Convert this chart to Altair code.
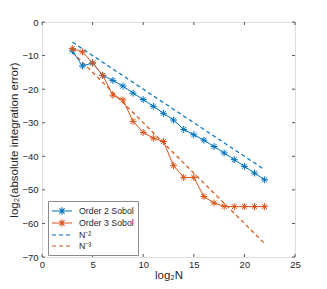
import altair as alt
import pandas as pd

# ---- data ----
log2N = list(range(3, 23))
order2 = [-8.6, -13.1, -12.2, -15.9, -17.4, -19.1, -21.2, -23.1, -25.1, -27.2,
          -29.2, -32.0, -33.6, -35.2, -37.1, -39.0, -41.0, -43.0, -45.0, -47.0]
order3 = [-7.9, -8.9, -12.2, -15.9, -21.8, -23.2, -29.6, -32.9, -34.6, -35.6,
          -42.8, -46.3, -46.3, -52.0, -53.9, -54.9, -55.0, -55.0, -55.0, -55.0]
ref_x = [3, 22]
ref2 = [-6, -44]
ref3 = [-9, -66]

series_names = ["Order 2 Sobol", "Order 3 Sobol", "N⁻²", "N⁻³"]
BLUE, ORANGE = "#0072BD", "#D95319"
series_colors = [BLUE, ORANGE, BLUE, ORANGE]
DASH = [4, 3]
series_dash = [[1, 0], [1, 0], DASH, DASH]

xticks = [0, 5, 10, 15, 20, 25]
yticks = [0, -10, -20, -30, -40, -50, -60, -70]

W, H = 253, 235
FONT = "Liberation Sans"
TXT = "#262626"
FRAME = "#8a8a8a"

d2 = pd.DataFrame({"x": log2N, "y": order2})
d3 = pd.DataFrame({"x": log2N, "y": order3})
dr2 = pd.DataFrame({"x": ref_x, "y": ref2})
dr3 = pd.DataFrame({"x": ref_x, "y": ref3})
dleg = pd.DataFrame({"x": [0] * 4, "y": [0] * 4, "s": series_names})

xaxis = alt.Axis(values=xticks, grid=False, domain=False, ticks=False,
                 labelPadding=2, titlePadding=1, labelFlush=False, labelOverlap=False,
                 labelFont=FONT, labelFontSize=9.5, labelColor=TXT,
                 titleFont=FONT, titleFontSize=11.5, titleFontWeight="normal",
                 titleColor=TXT)
yaxis = alt.Axis(values=yticks, grid=False, domain=False, ticks=False,
                 labelPadding=4, titlePadding=2, labelFlush=False, labelOverlap=False,
                 labelFont=FONT, labelFontSize=9.5, labelColor=TXT,
                 titleFont=FONT, titleFontSize=11.5, titleFontWeight="normal",
                 titleColor=TXT)
xscale = alt.Scale(domain=[0, 25], nice=False, zero=False)
yscale = alt.Scale(domain=[-70, 0], nice=False, zero=False)

def X():
    return alt.X("x:Q", scale=xscale, title="log₂N", axis=xaxis)

def Y():
    return alt.Y("y:Q", scale=yscale, title="log₂(absolute integration error)", axis=yaxis)

ASTER = "M-1,0L1,0M0,-1L0,1M-0.7,-0.7L0.7,0.7M-0.7,0.7L0.7,-0.7"
LEG_ASTER = ("M-2,0L2,0M-0.75,0L0.75,0M0,-0.75L0,0.75"
             "M-0.53,-0.53L0.53,0.53M-0.53,0.53L0.53,-0.53")
LEG_LINE = "M-2,0L2,0"

legend = alt.Legend(
    title=None, orient="none", legendX=6, legendY=179,
    fillColor="white", strokeColor=FRAME, padding=4,
    labelFont=FONT, labelFontSize=8.8, labelColor=TXT,
    symbolSize=100, symbolStrokeWidth=1.1, rowPadding=0,
    symbolOffset=4, labelOffset=11,
    symbolFillColor="transparent",
)

def line_layer(d, color, dash=None):
    kw = {"strokeWidth": 1, "color": color}
    if dash:
        kw["strokeDash"] = dash
        kw["strokeWidth"] = 1.2
    return alt.Chart(d).mark_line(**kw).encode(x=X(), y=Y())

def pt_layer(d, color):
    return alt.Chart(d).mark_point(
        shape=ASTER, size=49, strokeWidth=1, filled=False, opacity=1, color=color
    ).encode(x=X(), y=Y())

# legend-only layer: no marks drawn, the legend is built from the explicit scale domains
leg = alt.Chart(dleg).transform_filter("false").mark_point(
    filled=False, strokeWidth=1, opacity=1
).encode(
    x=X(), y=Y(),
    color=alt.Color("s:N", scale=alt.Scale(domain=series_names, range=series_colors), legend=legend),
    shape=alt.Shape("s:N", scale=alt.Scale(domain=series_names,
                                           range=[LEG_ASTER, LEG_ASTER, LEG_LINE, LEG_LINE]), legend=legend),
    strokeDash=alt.StrokeDash("s:N", scale=alt.Scale(domain=series_names, range=series_dash), legend=legend),
)

xt = pd.DataFrame({"x": xticks})
yt = pd.DataFrame({"y": yticks})
TICK = "#555555"
xb = alt.Chart(xt).mark_rule(color=TICK, strokeWidth=1).encode(
    x=X(), y=alt.value(H), y2=alt.value(H - 3))
xtop = alt.Chart(xt).mark_rule(color=TICK, strokeWidth=1).encode(
    x=X(), y=alt.value(0), y2=alt.value(3))
yl = alt.Chart(yt).mark_rule(color=TICK, strokeWidth=1).encode(
    y=Y(), x=alt.value(0), x2=alt.value(3))
yr = alt.Chart(yt).mark_rule(color=TICK, strokeWidth=1).encode(
    y=Y(), x=alt.value(W), x2=alt.value(W - 3))

chart = alt.layer(
    line_layer(dr2, BLUE, DASH),
    line_layer(dr3, ORANGE, DASH),
    line_layer(d2, BLUE),
    line_layer(d3, ORANGE),
    pt_layer(d2, BLUE),
    pt_layer(d3, ORANGE),
    leg, xb, xtop, yl, yr,
).properties(
    width=W, height=H,
    autosize=alt.AutoSizeParams(type="none"),
    padding={"left": 34, "top": 14, "right": 24, "bottom": 31},
).configure_view(
    stroke=FRAME, strokeWidth=1
).configure(background="white")

chart.save("out.html", embed_options={"renderer": "svg", "actions": False})
